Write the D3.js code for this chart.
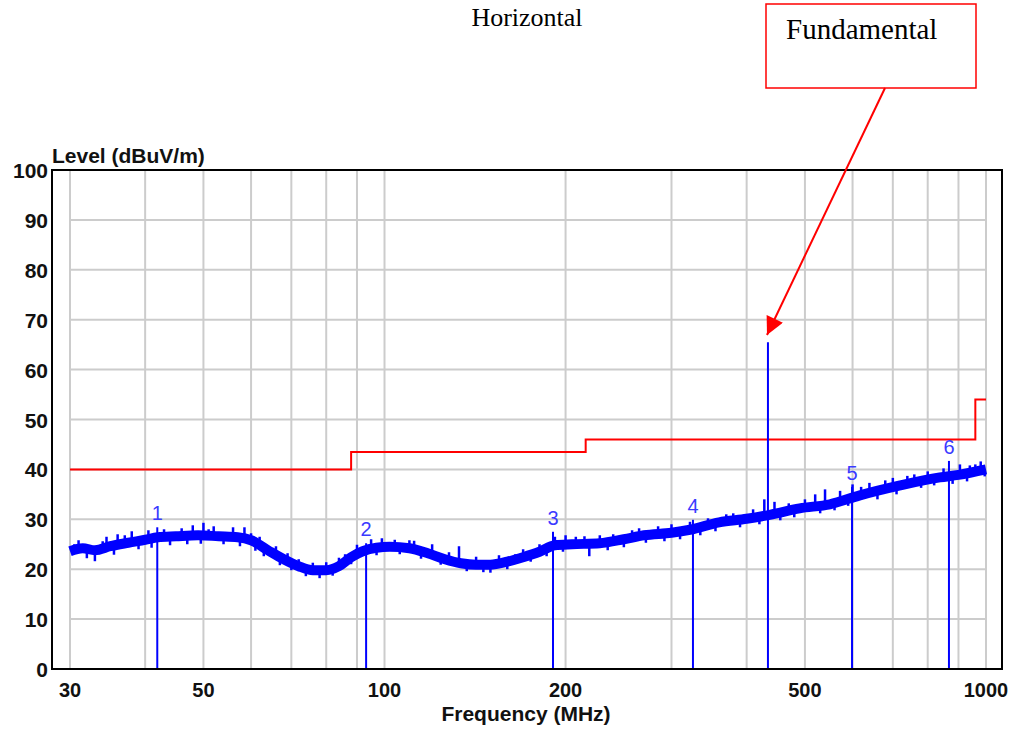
<!DOCTYPE html>
<html>
<head>
<meta charset="utf-8">
<script src="https://cdn.jsdelivr.net/npm/d3@7"></script>
<style>
body { margin: 0; background: #fff; }
svg { display: block; }
</style>
</head>
<body>
<script>
// tick labels
var xTicks = [30, 50, 100, 200, 500, 1000];
var yTicks = [0, 10, 20, 30, 40, 50, 60, 70, 80, 90, 100];
var xGrid = [30, 40, 50, 60, 70, 80, 90, 100, 200, 300, 400, 500, 600, 700, 800, 900, 1000];

// limit line (step)
var limitFreq = [30, 88, 216, 960, 1000];
var limitLevel = [40, 43.5, 46, 54, 54];

var traceFreq = [30, 31.5, 33, 35, 37.5, 40, 42, 45, 49, 53, 57, 60, 64, 68, 72, 76, 80, 84, 88, 92,
                 97, 102, 110, 118, 126, 134, 142, 150, 160, 170, 181, 192, 205, 228, 250, 270, 300,
                 322, 360, 400, 437, 490, 550, 617, 720, 838, 900, 1000];
var traceLevel = [23.6, 24.2, 23.8, 24.6, 25.3, 25.9, 26.4, 26.6, 26.8, 26.6, 26.4, 25.8, 23.8, 22.0, 20.6, 19.8, 19.8, 20.6, 22.4, 23.6,
                  24.3, 24.5, 24.2, 23.2, 22.0, 21.2, 20.9, 20.9, 21.5, 22.4, 23.5, 24.8, 25.0, 25.2, 26.0, 26.8, 27.3,
                  27.9, 29.4, 30.1, 30.9, 32.2, 33.0, 34.8, 36.8, 38.4, 38.9, 40.0];

// noise spikes sticking out of the band (frequency, tip level)
var spikeFreq = [30.5, 31, 32, 33, 34, 34.5, 35.5, 36, 37, 38, 39, 40.5, 41, 43, 44, 46, 47, 48, 49.5, 50,
                 51, 52, 54, 56, 57.5, 58.5, 60, 61, 62, 63, 66, 67, 69, 70, 72, 74, 76, 78, 80, 82,
                 84, 86, 88, 90, 95, 97, 99, 104, 106, 110, 112, 115, 120, 124, 128, 133, 137, 142, 146, 150,
                 155, 160, 165, 170, 175, 181, 186, 192, 198, 200, 208, 215, 219, 228, 235, 240, 250, 258, 265, 272,
                 285, 292, 300, 310, 322, 335, 345, 355, 370, 380, 390, 410, 420, 428, 445, 455, 470, 480, 500, 520,
                 530, 540, 560, 572, 590, 600, 620, 640, 660, 680, 700, 710, 740, 760, 780, 800, 820, 850, 880, 905,
                 930, 940, 960, 980, 995];
var spikeTip = [25.0, 25.8, 22.2, 21.6, 25.6, 26.5, 22.9, 27.0, 26.8, 27.6, 24.0, 27.8, 24.3, 28.0, 24.8, 28.2, 25.0, 28.8, 25.1, 29.3,
                28.0, 28.6, 25.0, 28.4, 24.6, 28.4, 27.2, 23.7, 26.5, 22.6, 24.6, 20.8, 23.2, 19.8, 22.0, 18.6, 21.3, 18.2, 21.4, 18.7,
                22.3, 23.0, 21.0, 24.9, 26.0, 22.8, 26.2, 25.9, 23.0, 25.8, 25.7, 22.1, 25.0, 20.9, 23.4, 24.6, 19.6, 22.5, 19.4, 19.3,
                22.8, 20.0, 23.0, 24.0, 21.5, 25.0, 22.6, 26.5, 23.5, 26.8, 26.5, 26.6, 22.6, 26.8, 23.8, 27.0, 24.4, 27.8, 28.2, 25.3,
                28.6, 25.6, 29.0, 26.0, 29.5, 26.8, 30.2, 27.6, 31.0, 31.2, 28.4, 32.0, 29.0, 34.0, 33.5, 29.8, 33.2, 30.4, 34.0, 35.0,
                31.2, 36.0, 31.8, 35.7, 32.7, 37.0, 36.5, 37.3, 34.0, 37.8, 38.3, 35.0, 38.7, 39.0, 36.3, 39.6, 36.8, 40.2, 37.1, 41.0,
                37.6, 40.8, 41.0, 41.6, 38.6];

// markers
var markerLabel = ["1", "2", "3", "4", "", "5", "6"];
var markerFreq = [41.9, 93.2, 190.6, 325.7, 434, 598.8, 867.8];
var markerLevel = [28.4, 25.2, 27.5, 29.9, 65.5, 36.5, 41.7];

var width = 1013, height = 730;
var pLeft = 52, pRight = 1002, pTop = 170, pBottom = 669;

var svg = d3.select("body").append("svg")
    .attr("width", width)
    .attr("height", height);

var x = d3.scaleLog().domain([30, 1000]).range([70, 986]);
var y = d3.scaleLinear().domain([0, 100]).range([pBottom, pTop]);

// grid
svg.selectAll(".vgrid")
    .data(xGrid)
    .enter()
    .append("line")
    .attr("x1", function (d) { return x(d); })
    .attr("x2", function (d) { return x(d); })
    .attr("y1", y(0))
    .attr("y2", y(100))
    .style("stroke", "#cccccc")
    .style("stroke-width", 2);

svg.selectAll(".hgrid")
    .data(yTicks.slice(1, -1))
    .enter()
    .append("line")
    .attr("x1", x(30))
    .attr("x2", x(1000))
    .attr("y1", function (d) { return y(d); })
    .attr("y2", function (d) { return y(d); })
    .style("stroke", "#cccccc")
    .style("stroke-width", 2);

// limit line
var limitPts = limitFreq.map(function (f, i) { return [f, limitLevel[i]]; });
svg.append("path")
    .attr("d", d3.line()
        .x(function (d) { return x(d[0]); })
        .y(function (d) { return y(d[1]); })
        .curve(d3.curveStepAfter)(limitPts))
    .style("fill", "none")
    .style("stroke", "#ff0000")
    .style("stroke-width", 2);

// marker lines
svg.selectAll(".mline")
    .data(markerFreq)
    .enter()
    .append("line")
    .attr("x1", function (d) { return x(d); })
    .attr("x2", function (d) { return x(d); })
    .attr("y1", y(0))
    .attr("y2", function (d, i) { return y(markerLevel[i]); })
    .style("stroke", "#0000ff")
    .style("stroke-width", 2);

// trace
var tracePts = traceFreq.map(function (f, i) { return [f, traceLevel[i]]; });
svg.append("path")
    .attr("d", d3.line()
        .x(function (d) { return x(d[0]); })
        .y(function (d) { return y(d[1]); })
        .curve(d3.curveMonotoneX)(tracePts))
    .style("fill", "none")
    .style("stroke", "#0000ff")
    .style("stroke-width", 10)
    .style("stroke-linejoin", "round");

var bis = d3.bisector(function (d) { return d; }).left;
function baseAt(f) {
    var i = Math.max(1, Math.min(traceFreq.length - 1, bis(traceFreq, f)));
    var t = (Math.log(f) - Math.log(traceFreq[i - 1])) / (Math.log(traceFreq[i]) - Math.log(traceFreq[i - 1]));
    return traceLevel[i - 1] + t * (traceLevel[i] - traceLevel[i - 1]);
}

svg.selectAll(".spike")
    .data(spikeFreq)
    .enter()
    .append("line")
    .attr("x1", function (d) { return x(d); })
    .attr("x2", function (d) { return x(d); })
    .attr("y1", function (d) { return y(baseAt(d)); })
    .attr("y2", function (d, i) { return y(spikeTip[i]); })
    .style("stroke", "#0000ff")
    .style("stroke-width", 2.5);

// marker labels
svg.selectAll(".mlabel")
    .data(markerFreq)
    .enter()
    .append("text")
    .attr("x", function (d) { return x(d); })
    .attr("y", function (d, i) { return y(markerLevel[i]) - 7; })
    .attr("text-anchor", "middle")
    .style("font-family", "Liberation Sans, Arial, sans-serif")
    .style("font-size", "20px")
    .style("fill", "#3a3aff")
    .text(function (d, i) { return markerLabel[i]; });

// frame
svg.append("rect")
    .attr("x", pLeft)
    .attr("y", pTop)
    .attr("width", pRight - pLeft)
    .attr("height", pBottom - pTop)
    .style("fill", "none")
    .style("stroke", "#000")
    .style("stroke-width", 2);

// axis labels
svg.selectAll(".ylab")
    .data(yTicks)
    .enter()
    .append("text")
    .attr("x", 48)
    .attr("y", function (d) { return y(d); })
    .attr("dy", 8)
    .attr("text-anchor", "end")
    .style("font-family", "Liberation Sans, Arial, sans-serif")
    .style("font-weight", "bold")
    .style("font-size", "21px")
    .style("fill", "#111")
    .text(function (d) { return d; });

svg.selectAll(".xlab")
    .data(xTicks)
    .enter()
    .append("text")
    .attr("x", function (d) { return x(d); })
    .attr("y", 697)
    .attr("text-anchor", "middle")
    .style("font-family", "Liberation Sans, Arial, sans-serif")
    .style("font-weight", "bold")
    .style("font-size", "20px")
    .style("fill", "#111")
    .text(function (d) { return d; });

svg.append("text")
    .attr("x", 526)
    .attr("y", 721)
    .attr("text-anchor", "middle")
    .style("font-family", "Liberation Sans, Arial, sans-serif")
    .style("font-weight", "bold")
    .style("font-size", "21px")
    .style("fill", "#111")
    .text("Frequency (MHz)");

svg.append("text")
    .attr("x", 52)
    .attr("y", 163)
    .style("font-family", "Liberation Sans, Arial, sans-serif")
    .style("font-weight", "bold")
    .style("font-size", "21px")
    .style("fill", "#111")
    .text("Level (dBuV/m)");

// title
svg.append("text")
    .attr("x", 527)
    .attr("y", 26)
    .attr("text-anchor", "middle")
    .style("font-family", "Liberation Serif, Times New Roman, serif")
    .style("font-size", "26px")
    .style("fill", "#000")
    .text("Horizontal");

// annotation box
svg.append("rect")
    .attr("x", 766)
    .attr("y", 4)
    .attr("width", 210)
    .attr("height", 84)
    .style("fill", "#fff")
    .style("stroke", "#ff0000")
    .style("stroke-width", 1.5);

svg.append("text")
    .attr("x", 786)
    .attr("y", 39)
    .style("font-family", "Liberation Serif, Times New Roman, serif")
    .style("font-size", "29px")
    .style("fill", "#000")
    .text("Fundamental");

svg.append("defs").append("marker")
    .attr("id", "arrow")
    .attr("viewBox", "0 0 10 10")
    .attr("refX", 10)
    .attr("refY", 5)
    .attr("markerUnits", "userSpaceOnUse")
    .attr("orient", "auto")
    .attr("markerWidth", 22)
    .attr("markerHeight", 18)
    .append("path")
    .attr("d", "M0,0 L10,5 L0,10 Z")
    .style("fill", "#ff0000");

svg.append("line")
    .attr("x1", 885)
    .attr("y1", 88)
    .attr("x2", 767)
    .attr("y2", 335)
    .style("stroke", "#ff0000")
    .style("stroke-width", 2)
    .attr("marker-end", "url(#arrow)");
</script>
</body>
</html>
